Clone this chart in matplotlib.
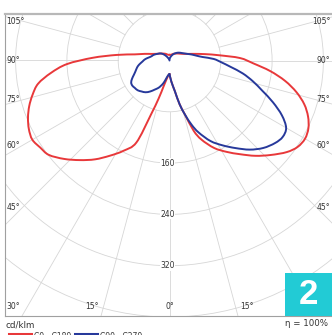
import numpy as np
import matplotlib.pyplot as plt
from matplotlib.patches import Circle, Rectangle, PathPatch
from matplotlib.path import Path

# polar luminous intensity data (cd/klm), gamma measured from nadir
gamma = [0, 5, 10, 13, 16, 19, 22, 27, 32, 37, 42, 47, 52, 56, 60, 64, 68, 72,
         76, 80, 84, 88, 92, 96, 100, 105, 110, 120, 130, 140, 150, 160, 170, 180]
c0 = [21, 33, 49, 70, 88, 116, 133, 153, 168, 183, 200, 216, 232, 241, 244, 241, 233, 221,
      204, 183, 158, 131, 110, 78, 57, 40, 30, 21, 17, 14, 12, 10, 9, 9]
c180 = [21, 24, 32, 42, 62, 90, 138, 158, 175, 193, 209, 225, 239, 243, 247, 244, 238, 230,
        220, 208, 186, 160, 120, 83, 55, 40, 30, 21, 17, 14, 12, 10, 9, 9]
c90 = [21, 33, 49, 70, 88, 106, 121, 141, 156, 171, 187, 200, 209, 213, 210, 195, 174, 152,
       134, 116, 96, 81, 69, 52, 43, 36, 30, 23, 19, 15, 11, 7, 4, 2]
c270 = [21, 23, 28, 33, 38, 42, 46, 51, 57, 62, 65, 68, 69, 70, 69, 65, 60, 56,
        53, 50, 46, 42, 39, 35, 31, 28, 26, 21, 17, 11, 5, 2, 1, 0]

rings = [80, 160, 240, 320, 400, 480]
ring_labels = [160, 240, 320]
side_angles = [45, 60, 75, 90, 105]
bottom_angles = [0, 15, 30]

W, H = 332, 335
cx, cy = 169.5, 60.5          # polar centre, pixels
scale = 51.3 / 80             # px per cd/klm
box = (5, 14, 332, 316)       # plot box, pixels (left, top, right, bottom)
RED = '#e8383a'
BLUE = '#27399b'


def half(vals, side):
    g = np.radians(gamma)
    v = np.array(vals, dtype=float)
    return np.column_stack([side * v * np.sin(g), -v * np.cos(g)])


def smooth_path(pts):
    # catmull-rom through the measured points, as cubic bezier segments
    p = np.vstack([pts[0], pts, pts[-1]])
    verts = [pts[0]]
    codes = [Path.MOVETO]
    for i in range(1, len(p) - 2):
        c1 = p[i] + (p[i + 1] - p[i - 1]) / 6
        c2 = p[i + 1] - (p[i + 2] - p[i]) / 6
        verts += [c1, c2, p[i + 1]]
        codes += [Path.CURVE4] * 3
    return Path(verts, codes)


fig = plt.figure(figsize=(W / 100, H / 100), dpi=100)
ax = fig.add_axes([box[0] / W, (H - box[3]) / H, (box[2] - box[0]) / W, (box[3] - box[1]) / H])
ax.set_xlim((box[0] - cx) / scale, (box[2] - cx) / scale)
ax.set_ylim(-(box[3] - cy) / scale, (cy - box[1]) / scale)
ax.set_xticks([])
ax.set_yticks([])
ax.spines['right'].set_visible(False)
ax.spines['top'].set_color('#b8b8b8')
ax.spines['top'].set_linewidth(1.6)
for s in ['left', 'bottom']:
    ax.spines[s].set_color('#a0a0a0')
    ax.spines[s].set_linewidth(0.8)

grid_c = '#d6d6d6'
for r in rings:
    ax.add_patch(Circle((0, 0), r, fill=False, color=grid_c, lw=0.6, zorder=1))
for a in range(0, 360, 15):
    t = np.radians(a)
    ax.plot([80 * np.sin(t), 700 * np.sin(t)], [-80 * np.cos(t), -700 * np.cos(t)],
            color=grid_c, lw=0.6, zorder=1)

for vals, side, col, z in [(c0, 1, RED, 3), (c180, -1, RED, 3), (c90, 1, BLUE, 4), (c270, -1, BLUE, 4)]:
    ax.add_patch(PathPatch(smooth_path(half(vals, side)), fill=False, edgecolor=col,
                           lw=1.4, zorder=z, capstyle='round', joinstyle='round'))

lab = dict(fontsize=5.5, color='#333333', va='center')
xin = (23 - cx) / scale
for a in side_angles:
    t = np.radians(a)
    yy = xin * np.cos(t) / np.sin(t)
    ax.text(0.005, yy, '%d°' % a, ha='left', transform=ax.get_yaxis_transform(), **lab)
    ax.text(0.995, yy, '%d°' % a, ha='right', transform=ax.get_yaxis_transform(), **lab)
ybot = ax.get_ylim()[0]
for a in bottom_angles:
    t = np.radians(a)
    xx = -ybot * np.tan(t)
    off = 0 if a == 0 else 9 / scale
    ax.text(-xx - off, 0.03, '%d°' % a, ha='center', transform=ax.get_xaxis_transform(), **lab)
    if a:
        ax.text(xx + off, 0.03, '%d°' % a, ha='center', transform=ax.get_xaxis_transform(), **lab)
for r in ring_labels:
    ax.text(-3, -r, str(r), ha='center', zorder=2,
            bbox=dict(facecolor='white', edgecolor='none', pad=0.3), **lab)

fig.text(6 / W, 1 - 325 / H, 'cd/klm', fontsize=6.3, color='#333333', va='center')
fig.text(328 / W, 1 - 324 / H, 'η = 100%', fontsize=6.2, color='#333333', va='center', ha='right')

# legend swatches (cut by the lower edge, as in the source image)
fig.add_artist(plt.Line2D([9 / W, 31 / W], [1 - 333.5 / H] * 2, color=RED, lw=2.2))
fig.add_artist(plt.Line2D([75 / W, 97 / W], [1 - 333.5 / H] * 2, color=BLUE, lw=2.2))
fig.text(34 / W, 1 - 336.5 / H, 'C0 - C180', fontsize=5.5, color='#333333', va='center')
fig.text(100 / W, 1 - 336.5 / H, 'C90 - C270', fontsize=5.5, color='#333333', va='center')

fig.add_artist(Rectangle((285 / W, (H - 316) / H), 47 / W, 43 / H, transform=fig.transFigure,
                         facecolor='#22cbd5', edgecolor='none', zorder=10))
fig.text(308.5 / W, 1 - 295 / H, '2', fontsize=25, fontweight='bold', color='white',
         family='Liberation Sans', ha='center', va='center', zorder=11)

fig.savefig('out.png', dpi=100)
